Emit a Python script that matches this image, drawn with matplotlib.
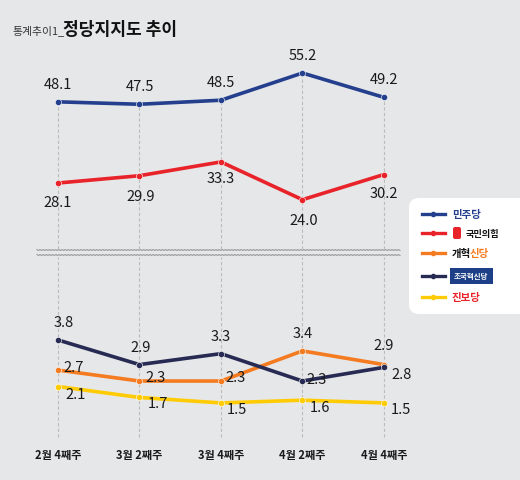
import numpy as np
import matplotlib.pyplot as plt
from matplotlib.patches import FancyBboxPatch
from matplotlib.lines import Line2D

plt.rcParams['font.family'] = ['Noto Sans CJK KR', 'DejaVu Sans']

#*--data---------------------------------------------------------------
weeks = ['2월 4째주', '3월 2째주', '3월 4째주', '4월 2째주', '4월 4째주']
minjoo = [48.1, 47.5, 48.5, 55.2, 49.2]
ppp = [28.1, 29.9, 33.3, 24.0, 30.2]
reform = [2.7, 2.3, 2.3, 3.4, 2.9]
rebuild = [3.8, 2.9, 3.3, 2.3, 2.8]
progressive = [2.1, 1.7, 1.5, 1.6, 1.5]

#*--colors-------------------------------------------------------------
BG = '#e6e7e8'
C_MINJOO = '#233f8e'
C_PPP = '#e8232a'
C_REFORM = '#f47b20'
C_REBUILD = '#272a52'
C_PROG = '#ffcb05'
GRID = '#bcbcbc'
TXT = '#1a1a1a'

W, H = 520, 481
fig = plt.figure(figsize=(W / 100, H / 100), dpi=100, facecolor=BG)

def fbox(x0, y0, x1, y1):
    # pixel box (top-left origin) -> figure fraction rect
    return [x0 / W, 1 - y1 / H, (x1 - x0) / W, (y1 - y0) / H]

ax_top = fig.add_axes(fbox(30, 60, 410, 250))
ax_bot = fig.add_axes(fbox(30, 258, 410, 445))
x = np.arange(len(weeks))

for ax in (ax_top, ax_bot):
    ax.set_facecolor('none')
    for s in ax.spines.values():
        s.set_visible(False)
    ax.set_xlim(-0.343, 4.32)
    ax.tick_params(length=0)
    ax.set_yticks([])

ax_top.set_ylim(11.85, 58.65)
ax_bot.set_ylim(0.0, 6.83)

# dashed guide lines
for i in x:
    ax_top.vlines(i, 11.85, minjoo[i], colors=GRID, linestyles=(0, (3, 2)), lw=0.8, zorder=1)
    ax_bot.axvline(i, ymin=0.04, ymax=1, color=GRID, linestyle=(0, (3, 2)), lw=0.8, zorder=1)

def draw(ax, vals, color, offs):
    ax.plot(x, vals, color=color, lw=2.6, zorder=3, solid_capstyle='round')
    ax.plot(x, vals, 'o', color=color, ms=4.5, mec='white', mew=0.4, zorder=4)
    for i, v in enumerate(vals):
        dx, dy, ha = offs[i]
        ax.annotate(f'{v:.1f}', (i, v), xytext=(dx, dy), textcoords='offset pixels',
                    ha=ha, va='center', fontsize=10.5, color=TXT, zorder=6)

# label offsets (pixels)
off_minjoo = [(0, 18, 'center')] * 5
off_ppp = [(0, -19, 'center'), (1, -20, 'center'), (0, -16, 'center'), (1, -20, 'center'), (0, -18, 'center')]
off_rebuild = [(6, 18, 'center'), (1, 18, 'center'), (0, 18, 'center'), (4, 2, 'left'), (8, -7, 'left')]
off_reform = [(5, 3, 'left'), (6, 4, 'left'), (5, 4, 'left'), (0, 18, 'center'), (0, 20, 'center')]
off_prog = [(7, -7, 'left'), (8, -6, 'left'), (6, -6, 'left'), (7, -7, 'left'), (7, -6, 'left')]

draw(ax_top, minjoo, C_MINJOO, off_minjoo)
draw(ax_top, ppp, C_PPP, off_ppp)
draw(ax_bot, progressive, C_PROG, off_prog)
draw(ax_bot, reform, C_REFORM, off_reform)
draw(ax_bot, rebuild, C_REBUILD, off_rebuild)

ax_top.set_xticks([])
ax_bot.set_xticks(x)
ax_bot.set_xticklabels(weeks, fontsize=8, fontweight='bold', color=TXT)
ax_bot.tick_params(axis='x', pad=3)

#*--break marks (wavy double line)-----------------------------------------
xs = np.linspace(37, 400, 400)
for yb in (251, 256):
    ys = yb + 0.5 * np.sin(xs * 2.0)
    fig.add_artist(Line2D(xs / W, 1 - ys / H, color='#9a9a9a', lw=0.8))

#*--title------------------------------------------------------------------
fig.text(12 / W, 1 - 31 / H, '통계추이1_', fontsize=7.8, color='#333333', va='center')
fig.text(63 / W, 1 - 30 / H, '정당지지도 추이', fontsize=12.3, fontweight='bold', color='#111111', va='center')

#*--legend-------------------------------------------------------------------
fig.add_artist(FancyBboxPatch((409 / W, 1 - 315 / H), 130 / W, 116 / H,
                              boxstyle='round,pad=0,rounding_size=0.02',
                              transform=fig.transFigure, fc='white', ec='none'))
leg_y = [215, 234, 254, 277, 298]
leg_c = [C_MINJOO, C_PPP, C_REFORM, C_REBUILD, C_PROG]
for yy, c in zip(leg_y, leg_c):
    yf = 1 - yy / H
    fig.add_artist(Line2D([422 / W, 429 / W], [yf, yf], color=c, lw=2.4))
    fig.add_artist(Line2D([437 / W, 445 / W], [yf, yf], color=c, lw=2.4))
    fig.add_artist(Line2D([433 / W], [yf], color=c, marker='o', ms=3, lw=0))

fs_leg = 7.5
fig.text(452 / W, 1 - leg_y[0] / H, '민주당', fontsize=fs_leg, fontweight='bold', color=C_MINJOO, va='center')
fig.add_artist(FancyBboxPatch((453 / W, 1 - 240 / H), 8 / W, 12 / H,
                              boxstyle='round,pad=0,rounding_size=0.004',
                              transform=fig.transFigure, fc=C_PPP, ec='none'))
fig.text(466 / W, 1 - leg_y[1] / H, '국민의힘', fontsize=6.6, fontweight='bold', color='#111111', va='center')
fig.text(452 / W, 1 - leg_y[2] / H, '개혁', fontsize=fs_leg, fontweight='bold', color='#111111', va='center')
fig.text(470 / W, 1 - leg_y[2] / H, '신당', fontsize=fs_leg, fontweight='bold', color=C_REFORM, va='center')
fig.text(454 / W, 1 - leg_y[3] / H, '조국혁신당', fontsize=5.4, fontweight='bold', color='white', va='center',
         bbox=dict(boxstyle='square,pad=0.55', fc='#1d3f87', ec='none'))
fig.text(452 / W, 1 - leg_y[4] / H, '진보당', fontsize=fs_leg, fontweight='bold', color=C_PPP, va='center')

fig.savefig('out.png', dpi=100, facecolor=BG)
